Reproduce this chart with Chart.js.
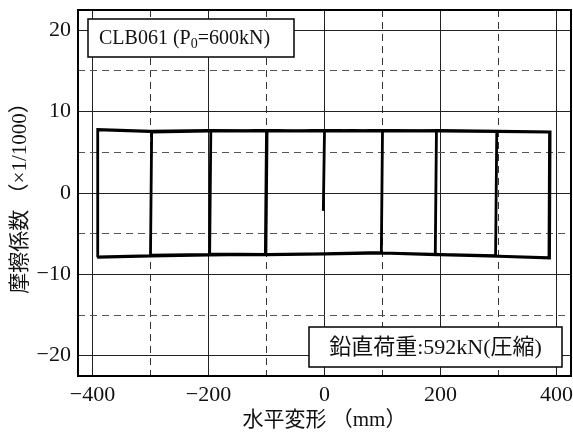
<!DOCTYPE html>
<html><head><meta charset="utf-8">
<script src="https://cdn.jsdelivr.net/npm/chart.js@4/dist/chart.umd.min.js"></script>
<style>html,body{margin:0;padding:0;background:#fff}#wrap{width:573px;height:435px}</style>
</head><body><div id="wrap"><canvas id="c" width="573" height="435"></canvas></div>
<script>
const xMajorTicks = [-400, -200, 0, 200, 400];
const xMinorTicks = [-300, -100, 100, 300];
const yMajorTicks = [-20, -10, 0, 10, 20];
const yMinorTicks = [-15, -5, 5, 15];

const disp100 = [-2, 0, 50, 100, 98, 0, -101, -99, 0, 100, 98, 0, -102, -100, 0, 100];
const mu100   = [-2.2, 7.6, 7.7, 7.6, -7.4, -7.5, -7.6, 7.6, 7.65, 7.6, -7.3, -7.45, -7.6, 7.65, 7.7, 7.65];
const disp200 = [193, 191, 100, 0, -100, -198, -196, -100, 0, 100, 193, 191, 100, 0, -100, -198, -196, -100, 0, 100, 200];
const mu200   = [7.6, -7.6, -7.4, -7.5, -7.55, -7.5, 7.6, 7.7, 7.65, 7.6, 7.65, -7.55, -7.35, -7.45, -7.6, -7.55, 7.65, 7.7, 7.6, 7.65, 7.6];
const disp300 = [297, 295, 200, 100, 0, -100, -200, -300, -298, -200, -100, 0, 100, 200, 297, 295, 200, 100, 0, -100, -200, -300, -298, -200, -100, 0, 100, 200, 300];
const mu300   = [7.6, -7.75, -7.6, -7.4, -7.5, -7.6, -7.55, -7.65, 7.5, 7.6, 7.65, 7.7, 7.6, 7.65, 7.6, -7.7, -7.55, -7.35, -7.5, -7.6, -7.6, -7.7, 7.55, 7.65, 7.6, 7.65, 7.7, 7.6, 7.55];
const disp390 = [388, 387, 300, 200, 100, 0, -100, -200, -300, -392, -391, -300, -200, -100, 0, 100, 200, 300, 388, 387, 300, 200, 100, 0, -100, -200, -300, -392, -391, -300, -200, -100, 0, 100, 200, 300, 389, 388, 300, 200, 100, 0];
const mu390   = [7.5, -8.0, -7.8, -7.6, -7.4, -7.5, -7.6, -7.6, -7.7, -7.85, 7.8, 7.6, 7.7, 7.6, 7.7, 7.65, 7.7, 7.6, 7.5, -7.95, -7.75, -7.55, -7.35, -7.45, -7.55, -7.65, -7.75, -7.9, 7.75, 7.55, 7.65, 7.7, 7.6, 7.7, 7.6, 7.6, 7.5, -8.0, -7.8, -7.6, -7.4, -7.5];

const xTitle = '水平変形 （mm）';
const yTitle = '摩擦係数 （×1/1000）';
const specimenPre = 'CLB061 (P';
const specimenSub = '0';
const specimenPost = '=600kN)';
const loadText = '鉛直荷重:592kN(圧縮)';

const disp = [].concat(disp100, disp200, disp300, disp390);
const mu = [].concat(mu100, mu200, mu300, mu390);
const points = disp.map((x, i) => ({x: x, y: mu[i]}));

const FONT = "'Liberation Serif', 'Noto Sans CJK JP', serif";
const minus = v => String(v).replace('-', '\u2212');
const setTicks = arr => s => { s.ticks = arr.map(v => ({value: v})); };
const fitTo = (w, h) => s => {
  if (w !== null) s.width = w;
  if (h !== null) s.height = h;
  s.paddingTop = 0; s.paddingBottom = 0; s.paddingLeft = 0; s.paddingRight = 0;
};

const overlay = {
  id: 'overlay',
  afterDatasetsDraw(chart) {
    const {ctx, chartArea: a} = chart;
    ctx.save();
    ctx.strokeStyle = '#000';
    ctx.lineWidth = 2;
    ctx.strokeRect(a.left, a.top, a.right - a.left, a.bottom - a.top);
    // box 1
    let bx = a.left + 10, by = a.top + 9, bw = 206, bh = 38;
    ctx.fillStyle = '#fff';
    ctx.fillRect(bx, by, bw, bh);
    ctx.lineWidth = 1.5;
    ctx.strokeRect(bx, by, bw, bh);
    ctx.fillStyle = '#111';
    ctx.textBaseline = 'middle';
    ctx.textAlign = 'left';
    ctx.font = '20px ' + FONT;
    let tx = bx + 11, ty = by + bh / 2 + 1;
    ctx.fillText(specimenPre, tx, ty);
    tx += ctx.measureText(specimenPre).width;
    ctx.font = '14px ' + FONT;
    ctx.fillText(specimenSub, tx, ty + 5);
    tx += ctx.measureText(specimenSub).width;
    ctx.font = '20px ' + FONT;
    ctx.fillText(specimenPost, tx, ty);
    // box 2
    bw = 253; bh = 40;
    bx = a.right - 9 - bw; by = a.bottom - 9 - bh;
    ctx.fillStyle = '#fff';
    ctx.fillRect(bx, by, bw, bh);
    ctx.strokeRect(bx, by, bw, bh);
    ctx.fillStyle = '#111';
    ctx.font = '22px ' + FONT;
    ctx.textAlign = 'center';
    ctx.fillText(loadText, bx + bw / 2, by + bh / 2 + 1);
    ctx.restore();
  }
};

new Chart(document.getElementById('c'), {
  type: 'scatter',
  data: {datasets: [{
    data: points, showLine: true, borderColor: '#000', borderWidth: 2.8,
    pointRadius: 0, tension: 0, fill: false
  }]},
  options: {
    responsive: false, animation: false, devicePixelRatio: 1,
    layout: {padding: {top: 10, right: 2, left: 0, bottom: 0}},
    plugins: {legend: {display: false}, tooltip: {enabled: false}},
    scales: {
      x: {
        type: 'linear', position: 'bottom', min: -425, max: 425,
        afterBuildTicks: setTicks(xMajorTicks),
        afterFit: fitTo(null, 59),
        grid: {color: '#222', lineWidth: 1, drawTicks: false},
        border: {display: false},
        ticks: {font: {family: FONT, size: 22}, color: '#111', padding: 6, callback: minus},
        title: {display: true, text: xTitle, font: {family: FONT, size: 21}, color: '#111', padding: {top: 0, bottom: 2}}
      },
      x2: {
        type: 'linear', position: 'top', min: -425, max: 425,
        afterBuildTicks: setTicks(xMinorTicks),
        afterFit: fitTo(null, 0),
        grid: {color: '#333', lineWidth: 1, drawTicks: false},
        border: {display: false, dash: [7, 5]},
        ticks: {display: false}
      },
      y: {
        type: 'linear', position: 'left', min: -22.5, max: 22.5,
        afterBuildTicks: setTicks(yMajorTicks),
        afterFit: fitTo(78, null),
        grid: {color: '#222', lineWidth: 1, drawTicks: false},
        border: {display: false},
        ticks: {font: {family: FONT, size: 22}, color: '#111', padding: 7, callback: minus},
        title: {display: true, text: yTitle, font: {family: FONT, size: 21}, color: '#111', padding: {top: 8, bottom: 0}}
      },
      y2: {
        type: 'linear', position: 'right', min: -22.5, max: 22.5,
        afterBuildTicks: setTicks(yMinorTicks),
        afterFit: fitTo(0, null),
        grid: {color: '#555', lineWidth: 1, drawTicks: false},
        border: {display: false, dash: [7, 5]},
        ticks: {display: false}
      }
    }
  },
  plugins: [overlay]
});
</script></body></html>
